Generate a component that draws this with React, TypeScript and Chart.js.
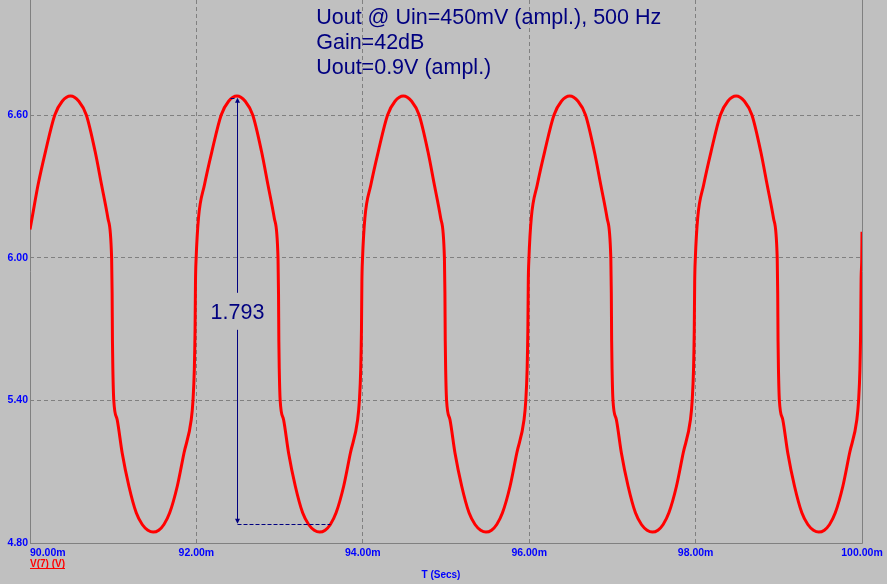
import React, { useEffect, useRef } from "react";
import { Chart, registerables } from "chart.js";

Chart.register(...registerables);

// ---- data (time in ms, voltage in V) ----
const timeMs: number[] = [
  90.000, 90.025, 90.097, 90.186, 90.298, 90.387,
  90.487, 90.587, 90.677, 90.783, 90.860, 90.936, 90.981, 90.987, 90.991, 90.996, 91.007,
  91.048, 91.108, 91.189, 91.277, 91.349, 91.417, 91.480, 91.547, 91.610, 91.679, 91.770, 91.851, 91.938,
  91.959, 91.975, 91.984, 91.989, 91.997, 92.025, 92.097, 92.186, 92.298, 92.387,
  92.487, 92.587, 92.677, 92.783, 92.860, 92.936, 92.981, 92.987, 92.991, 92.996, 93.007,
  93.048, 93.108, 93.189, 93.277, 93.349, 93.417, 93.480, 93.547, 93.610, 93.679, 93.770, 93.851, 93.938,
  93.959, 93.975, 93.984, 93.989, 93.997, 94.025, 94.097, 94.186, 94.298, 94.387,
  94.487, 94.587, 94.677, 94.783, 94.860, 94.936, 94.981, 94.987, 94.991, 94.996, 95.007,
  95.048, 95.108, 95.189, 95.277, 95.349, 95.417, 95.480, 95.547, 95.610, 95.679, 95.770, 95.851, 95.938,
  95.959, 95.975, 95.984, 95.989, 95.997, 96.025, 96.097, 96.186, 96.298, 96.387,
  96.487, 96.587, 96.677, 96.783, 96.860, 96.936, 96.981, 96.987, 96.991, 96.996, 97.007,
  97.048, 97.108, 97.189, 97.277, 97.349, 97.417, 97.480, 97.547, 97.610, 97.679, 97.770, 97.851, 97.938,
  97.959, 97.975, 97.984, 97.989, 97.997, 98.025, 98.097, 98.186, 98.298, 98.387,
  98.487, 98.587, 98.677, 98.783, 98.860, 98.936, 98.981, 98.987, 98.991, 98.996, 99.007,
  99.048, 99.108, 99.189, 99.277, 99.349, 99.417, 99.480, 99.547, 99.610, 99.679, 99.770, 99.851, 99.938,
  99.959, 99.975, 99.984, 99.989, 99.997, 100.000,
];

const voltage: number[] = [
  6.120, 6.168, 6.308, 6.448, 6.602, 6.660,
  6.682, 6.660, 6.602, 6.448, 6.308, 6.168, 6.000, 5.850, 5.650, 5.530, 5.400,
  5.319, 5.179, 5.039, 4.927, 4.878, 4.854, 4.846, 4.854, 4.878, 4.927, 5.039, 5.179, 5.319,
  5.400, 5.530, 5.700, 5.900, 6.000, 6.168, 6.308, 6.448, 6.602, 6.660,
  6.682, 6.660, 6.602, 6.448, 6.308, 6.168, 6.000, 5.850, 5.650, 5.530, 5.400,
  5.319, 5.179, 5.039, 4.927, 4.878, 4.854, 4.846, 4.854, 4.878, 4.927, 5.039, 5.179, 5.319,
  5.400, 5.530, 5.700, 5.900, 6.000, 6.168, 6.308, 6.448, 6.602, 6.660,
  6.682, 6.660, 6.602, 6.448, 6.308, 6.168, 6.000, 5.850, 5.650, 5.530, 5.400,
  5.319, 5.179, 5.039, 4.927, 4.878, 4.854, 4.846, 4.854, 4.878, 4.927, 5.039, 5.179, 5.319,
  5.400, 5.530, 5.700, 5.900, 6.000, 6.168, 6.308, 6.448, 6.602, 6.660,
  6.682, 6.660, 6.602, 6.448, 6.308, 6.168, 6.000, 5.850, 5.650, 5.530, 5.400,
  5.319, 5.179, 5.039, 4.927, 4.878, 4.854, 4.846, 4.854, 4.878, 4.927, 5.039, 5.179, 5.319,
  5.400, 5.530, 5.700, 5.900, 6.000, 6.168, 6.308, 6.448, 6.602, 6.660,
  6.682, 6.660, 6.602, 6.448, 6.308, 6.168, 6.000, 5.850, 5.650, 5.530, 5.400,
  5.319, 5.179, 5.039, 4.927, 4.878, 4.854, 4.846, 4.854, 4.878, 4.927, 5.039, 5.179, 5.319,
  5.400, 5.530, 5.700, 5.900, 6.000, 6.110,
];

const xTicks: number[] = [90, 92, 94, 96, 98, 100];
const yTicks: number[] = [4.8, 5.4, 6.0, 6.6];
const xMin = 90;
const xMax = 100;
const yMin = 4.8;
const yMax = 7.086;

const seriesLabel = "V(7) (V)";
const xAxisTitle = "T (Secs)";
const noteLines: string[] = [
  "Uout @ Uin=450mV (ampl.), 500 Hz",
  "Gain=42dB",
  "Uout=0.9V (ampl.)",
];
const noteTime = 93.44;
const measureLabel = "1.793";
const measureTime = 92.49;
const measureTop = 6.674;
const measureBottom = 4.881;
const measureDashEnd = 93.61;
const measureTopDashStart = 92.41;

const BG = "#c0c0c0";
const GRID = "#808080";
const BLUE = "#0000ff";
const NAVY = "#000080";
const RED = "#ff0000";
const AXIS_FONT = '"Liberation Sans", Arial, sans-serif';

export default function App() {
  const ref = useRef<HTMLCanvasElement | null>(null);

  useEffect(() => {
    document.body.style.margin = "0";
    const canvas = ref.current;
    if (!canvas) return;

    const points = timeMs.map((t, i) => ({ x: t, y: voltage[i] }));

    const bgPlugin = {
      id: "bg",
      beforeDraw(chart: any) {
        const ctx = chart.ctx;
        ctx.save();
        ctx.fillStyle = BG;
        ctx.fillRect(0, 0, chart.width, chart.height);
        ctx.restore();
      },
      beforeDatasetsDraw(chart: any) {
        const { ctx, chartArea } = chart;
        ctx.save();
        ctx.strokeStyle = GRID;
        ctx.lineWidth = 1;
        ctx.setLineDash([]);
        ctx.beginPath();
        ctx.moveTo(chartArea.left + 0.5, chartArea.top);
        ctx.lineTo(chartArea.left + 0.5, chartArea.bottom + 0.5);
        ctx.lineTo(chartArea.right + 0.5, chartArea.bottom + 0.5);
        ctx.lineTo(chartArea.right + 0.5, chartArea.top);
        ctx.stroke();
        ctx.restore();
      },
    };

    const overlayPlugin = {
      id: "overlay",
      afterDraw(chart: any) {
        const { ctx, chartArea } = chart;
        const xs = chart.scales.x;
        const ys = chart.scales.y;
        ctx.save();

        // x tick labels
        ctx.fillStyle = BLUE;
        ctx.font = `bold 10.5px ${AXIS_FONT}`;
        ctx.textBaseline = "alphabetic";
        xTicks.forEach((v, i) => {
          const px = xs.getPixelForValue(v);
          ctx.textAlign = i === 0 ? "left" : "center";
          ctx.fillText(v.toFixed(2) + "m", px, chartArea.bottom + 12.5);
        });

        // x axis title
        ctx.font = `bold 10px ${AXIS_FONT}`;
        ctx.textAlign = "center";
        ctx.fillText(xAxisTitle, 441, chartArea.bottom + 35);

        // series label (underlined)
        ctx.fillStyle = RED;
        ctx.textAlign = "left";
        ctx.fillText(seriesLabel, chartArea.left, chartArea.bottom + 23.5);
        const w = ctx.measureText(seriesLabel).width;
        ctx.fillRect(chartArea.left, chartArea.bottom + 25, w, 1);

        // note text
        ctx.fillStyle = NAVY;
        ctx.font = `21.5px ${AXIS_FONT}`;
        ctx.textAlign = "left";
        const nx = xs.getPixelForValue(noteTime);
        noteLines.forEach((line, i) => {
          ctx.fillText(line, nx, chartArea.top + 24 + i * 25);
        });

        // measurement
        const mx = Math.round(xs.getPixelForValue(measureTime)) + 0.5;
        const yTop = ys.getPixelForValue(measureTop);
        const yBot = ys.getPixelForValue(measureBottom);
        const yMid = (yTop + yBot) / 2;
        ctx.strokeStyle = NAVY;
        ctx.lineWidth = 1;
        ctx.beginPath();
        ctx.moveTo(mx, yTop + 2);
        ctx.lineTo(mx, yBot - 2);
        ctx.stroke();
        // arrowheads
        ctx.fillStyle = NAVY;
        ctx.beginPath();
        ctx.moveTo(mx, yTop);
        ctx.lineTo(mx - 2.5, yTop + 5);
        ctx.lineTo(mx + 2.5, yTop + 5);
        ctx.closePath();
        ctx.fill();
        ctx.beginPath();
        ctx.moveTo(mx, yBot);
        ctx.lineTo(mx - 2.5, yBot - 5);
        ctx.lineTo(mx + 2.5, yBot - 5);
        ctx.closePath();
        ctx.fill();
        // dashed reference lines
        ctx.setLineDash([4, 2]);
        ctx.beginPath();
        const yb = Math.round(yBot) + 0.5;
        ctx.moveTo(mx, yb);
        ctx.lineTo(xs.getPixelForValue(measureDashEnd), yb);
        const yt = Math.round(yTop) + 0.5;
        ctx.moveTo(xs.getPixelForValue(measureTopDashStart), yt);
        ctx.lineTo(mx - 2, yt);
        ctx.stroke();
        ctx.setLineDash([]);
        // label with background
        ctx.font = `21.5px ${AXIS_FONT}`;
        const lw = ctx.measureText(measureLabel).width;
        ctx.fillStyle = BG;
        ctx.fillRect(mx - lw / 2 - 2, yMid - 18, lw + 4, 37);
        ctx.fillStyle = NAVY;
        ctx.textAlign = "center";
        ctx.fillText(measureLabel, mx, yMid + 8);

        ctx.restore();
      },
    };

    const gridCommon = {
      color: GRID,
      lineWidth: 1,
      drawTicks: false,
      borderDash: [4, 3],
    };

    const chart = new Chart(canvas, {
      type: "line",
      data: {
        datasets: [
          {
            label: seriesLabel,
            data: points,
            borderColor: RED,
            backgroundColor: RED,
            borderWidth: 3,
            pointRadius: 0,
            fill: false,
            cubicInterpolationMode: "monotone",
          } as any,
        ],
      },
      options: {
        responsive: false,
        animation: false,
        devicePixelRatio: 1,
        layout: { padding: { left: 0, right: 25, top: 0, bottom: 0 } },
        plugins: {
          legend: { display: false },
          tooltip: { enabled: false },
          title: { display: false },
        },
        scales: {
          x: {
            type: "linear",
            min: xMin,
            max: xMax,
            afterBuildTicks: (s: any) => {
              s.ticks = xTicks.map((v) => ({ value: v }));
            },
            afterFit: (s: any) => {
              s.height = 41;
              s.paddingLeft = 0;
              s.paddingRight = 0;
            },
            ticks: { display: false },
            grid: gridCommon as any,
            border: { display: false, dash: [4, 3] },
          },
          y: {
            type: "linear",
            min: yMin,
            max: yMax,
            afterBuildTicks: (s: any) => {
              s.ticks = yTicks.map((v) => ({ value: v }));
            },
            afterFit: (s: any) => {
              s.width = 30;
              s.paddingTop = 0;
              s.paddingBottom = 0;
            },
            ticks: {
              color: BLUE,
              padding: 2,
              font: { family: AXIS_FONT, size: 10.5, weight: "bold" },
              callback: (v: any) => Number(v).toFixed(2),
            },
            grid: gridCommon as any,
            border: { display: false, dash: [4, 3] },
          },
        },
      } as any,
      plugins: [bgPlugin, overlayPlugin],
    });

    return () => chart.destroy();
  }, []);

  return (
    <div style={{ width: 887, height: 584 }}>
      <canvas ref={ref} width={887} height={584} style={{ display: "block" }} />
    </div>
  );
}
